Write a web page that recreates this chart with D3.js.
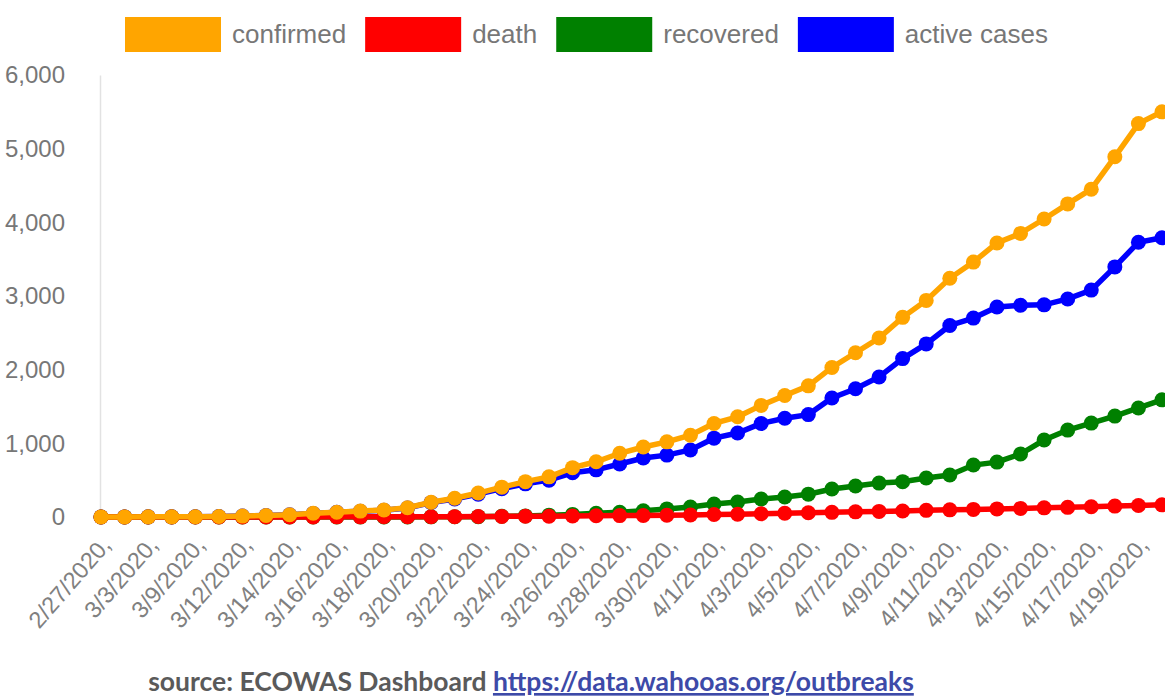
<!DOCTYPE html>
<html>
<head>
<meta charset="utf-8">
<script src="https://cdn.jsdelivr.net/npm/d3@7"></script>
<style>
  body { margin: 0; background: #fff; }
  svg { display: block; }
</style>
</head>
<body>
<div id="chart"></div>
<script>
// day labels (only every other one is printed on the axis)
var dates = ['2/27/2020', '2/28/2020', '3/3/2020', '3/6/2020', '3/9/2020', '3/11/2020',
  '3/12/2020', '3/13/2020', '3/14/2020', '3/15/2020', '3/16/2020', '3/17/2020', '3/18/2020',
  '3/19/2020', '3/20/2020', '3/21/2020', '3/22/2020', '3/23/2020', '3/24/2020', '3/25/2020',
  '3/26/2020', '3/27/2020', '3/28/2020', '3/29/2020', '3/30/2020', '3/31/2020', '4/1/2020',
  '4/2/2020', '4/3/2020', '4/4/2020', '4/5/2020', '4/6/2020', '4/7/2020', '4/8/2020',
  '4/9/2020', '4/10/2020', '4/11/2020', '4/12/2020', '4/13/2020', '4/14/2020', '4/15/2020',
  '4/16/2020', '4/17/2020', '4/18/2020', '4/19/2020', '4/20/2020'];

var confirmed = [1, 1, 2, 2, 4, 6, 12, 20, 30, 50, 65, 80, 95, 125, 200, 255, 325, 405, 480, 545,
  670, 750, 865, 950, 1020, 1110, 1270, 1360, 1515, 1650, 1780, 2030, 2230, 2430, 2710, 2940,
  3240, 3460, 3720, 3850, 4045, 4250, 4450, 4890, 5340, 5500];
var death = [0, 0, 0, 0, 0, 0, 0, 0, 1, 1, 2, 2, 3, 3, 4, 5, 6, 8, 10, 11, 14, 16, 19, 21, 24,
  28, 33, 38, 44, 51, 57, 63, 70, 76, 82, 90, 97, 103, 110, 117, 124, 131, 139, 148, 157, 165];
var recovered = [0, 0, 0, 0, 0, 0, 0, 0, 0, 0, 0, 0, 0, 0, 2, 3, 5, 10, 15, 25, 35, 50, 65, 85,
  110, 136, 176, 204, 244, 271, 310, 380, 420, 460, 480, 530, 570, 705, 745, 855, 1045, 1180,
  1275, 1370, 1480, 1590];
var active = [1, 1, 2, 2, 4, 6, 12, 20, 29, 49, 63, 78, 92, 122, 195, 245, 310, 385, 450, 500,
  600, 640, 720, 800, 840, 910, 1070, 1140, 1270, 1340, 1390, 1615, 1740, 1900, 2150, 2350,
  2600, 2700, 2850, 2875, 2880, 2960, 3080, 3395, 3730, 3790];

var yTicks = [0, 1000, 2000, 3000, 4000, 5000, 6000];

var seriesNames = ['confirmed', 'death', 'recovered', 'active cases'];
var seriesColors = ['#ffa500', '#ff0000', '#008000', '#0000ff'];
var seriesValues = [confirmed, death, recovered, active];

var width = 1165, height = 698;
var font = '"Liberation Sans", Arial, sans-serif';

var svg = d3.select('#chart').append('svg')
  .attr('width', width)
  .attr('height', height);

var x = d3.scalePoint().domain(dates).range([101, 1162]);
var y = d3.scaleLinear().domain([0, 6000]).range([517, 75]);

// y axis, domain line kept as the faint vertical rule
var yAxis = svg.append('g')
  .attr('transform', 'translate(100,0)')
  .call(d3.axisLeft(y).tickValues(yTicks).tickSize(0).tickPadding(35)
    .tickFormat(d3.format(',')));
yAxis.select('.domain').attr('stroke', '#e2e2e2').attr('stroke-width', 1.5);
yAxis.selectAll('text')
  .attr('fill', '#777')
  .style('font-family', font)
  .style('font-size', '24px');

// x axis, slanted labels
var xAxis = svg.append('g')
  .attr('transform', 'translate(0,532)')
  .call(d3.axisBottom(x)
    .tickValues(dates.filter(function (d, i) { return i % 2 === 0; }))
    .tickSize(0)
    .tickFormat(function (d) { return d + ','; }));
xAxis.select('.domain').remove();
xAxis.selectAll('text')
  .attr('fill', '#808080')
  .style('font-family', font)
  .style('font-size', '23.5px')
  .attr('text-anchor', 'end')
  .attr('dx', '-0.15em')
  .attr('dy', '0.6em')
  .attr('transform', 'rotate(-49)');

// series, drawn back to front so confirmed sits on top
var line = d3.line()
  .x(function (d, i) { return x(dates[i]); })
  .y(function (d) { return y(d); });

for (var s = seriesValues.length - 1; s >= 0; s--) {
  var g = svg.append('g');
  g.append('path')
    .datum(seriesValues[s])
    .attr('d', line)
    .attr('fill', 'none')
    .attr('stroke', seriesColors[s])
    .attr('stroke-width', 5.5);
  g.selectAll('circle').data(seriesValues[s]).enter()
    .append('circle')
    .attr('cx', function (d, i) { return x(dates[i]); })
    .attr('cy', function (d) { return y(d); })
    .attr('r', 7.5)
    .attr('fill', seriesColors[s]);
}

// legend
var legend = svg.append('g');
var lx = 125;
seriesNames.forEach(function (name, i) {
  legend.append('rect')
    .attr('x', lx).attr('y', 17)
    .attr('width', 96).attr('height', 35)
    .attr('fill', seriesColors[i]);
  var t = legend.append('text')
    .attr('x', lx + 107).attr('y', 34)
    .attr('dy', '0.35em')
    .attr('fill', '#777')
    .style('font-family', font)
    .style('font-size', '26px')
    .text(name);
  lx = lx + 107 + t.node().getComputedTextLength() + 19;
});

// source line
var src = svg.append('text')
  .attr('x', 531).attr('y', 691)
  .attr('text-anchor', 'middle')
  .style('font-family', 'Lato, "Open Sans", sans-serif')
  .style('font-size', '26.5px')
  .style('font-weight', 'bold');
src.append('tspan').attr('fill', '#5a5a5a').text('source: ECOWAS Dashboard ');
src.append('tspan').attr('fill', '#3d4aa8')
  .style('text-decoration', 'underline')
  .text('https://data.wahooas.org/outbreaks');
</script>
</body>
</html>
